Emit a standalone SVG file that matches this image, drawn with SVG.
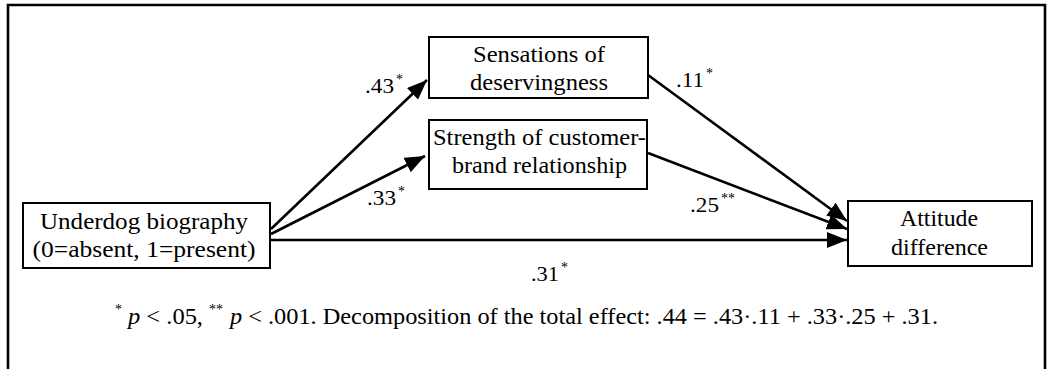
<svg xmlns="http://www.w3.org/2000/svg" width="1050" height="369" viewBox="0 0 1050 369">
<style>
text{font-family:"Liberation Serif","Times New Roman",serif;font-size:24px;fill:#000}
.box{fill:#fff;stroke:#000;stroke-width:2}
.edge{fill:none;stroke:#000;stroke-width:2.6}
.lbl{font-size:22px}
.sup{font-size:14px}
</style>
<defs>
<marker id="ah" markerUnits="userSpaceOnUse" markerWidth="22" markerHeight="16" refX="20" refY="8" orient="auto">
<path d="M0,0 L20,8 L0,16 Z" fill="#000"/>
</marker>
</defs>
<rect width="1050" height="369" fill="#fff"/>
<polyline points="8,369 8,5 1045,5 1045,369" fill="none" stroke="#000" stroke-width="2.6"/>
<g id="connectors">
<line class="edge" x1="271" y1="229" x2="427" y2="80" marker-end="url(#ah)"/>
<line class="edge" x1="271" y1="234" x2="425" y2="156" marker-end="url(#ah)"/>
<line class="edge" x1="271" y1="240" x2="847" y2="240" marker-end="url(#ah)"/>
<line class="edge" x1="648" y1="75" x2="847" y2="221" marker-end="url(#ah)"/>
<line class="edge" x1="648" y1="153" x2="847" y2="229" marker-end="url(#ah)"/>
<text class="lbl" x="365" y="93" textLength="29" lengthAdjust="spacingAndGlyphs">.43</text>
<text class="sup" x="396" y="84">*</text>
<text class="lbl" x="367" y="205" textLength="29" lengthAdjust="spacingAndGlyphs">.33</text>
<text class="sup" x="398" y="196">*</text>
<text class="lbl" x="676" y="87" textLength="28" lengthAdjust="spacingAndGlyphs">.11</text>
<text class="sup" x="706" y="78">*</text>
<text class="lbl" x="690" y="212" textLength="29" lengthAdjust="spacingAndGlyphs">.25</text>
<text class="sup" x="721" y="203">**</text>
<text class="lbl" x="531" y="281" textLength="28" lengthAdjust="spacingAndGlyphs">.31</text>
<text class="sup" x="561" y="272">*</text>
</g>
<g id="node-underdog">
<rect class="box" x="23" y="203" width="247" height="65"/>
<text x="144" y="229" text-anchor="middle" textLength="208" lengthAdjust="spacingAndGlyphs">Underdog biography</text>
<text x="144" y="257" text-anchor="middle" textLength="223" lengthAdjust="spacingAndGlyphs">(0=absent, 1=present)</text>
</g>
<g id="node-sensations">
<rect class="box" x="429" y="37" width="219" height="61"/>
<text x="539" y="62" text-anchor="middle" textLength="132" lengthAdjust="spacingAndGlyphs">Sensations of</text>
<text x="539" y="90" text-anchor="middle" textLength="138" lengthAdjust="spacingAndGlyphs">deservingness</text>
</g>
<g id="node-strength">
<rect class="box" x="429" y="120" width="218" height="69"/>
<text x="539.5" y="145" text-anchor="middle" textLength="213" lengthAdjust="spacingAndGlyphs">Strength of customer-</text>
<text x="539.5" y="173" text-anchor="middle" textLength="175" lengthAdjust="spacingAndGlyphs">brand relationship</text>
</g>
<g id="node-attitude">
<rect class="box" x="848" y="201" width="184" height="65"/>
<text x="939" y="226" text-anchor="middle" textLength="78" lengthAdjust="spacingAndGlyphs">Attitude</text>
<text x="939.5" y="255" text-anchor="middle" textLength="97" lengthAdjust="spacingAndGlyphs">difference</text>
</g>
<g id="footnote">
<text class="sup" x="115" y="314">*</text>
<text x="128" y="324" textLength="75" lengthAdjust="spacingAndGlyphs"><tspan font-style="italic">p</tspan> &lt; .05,</text>
<text class="sup" x="209" y="314">**</text>
<text x="230" y="324" textLength="708" lengthAdjust="spacingAndGlyphs"><tspan font-style="italic">p</tspan> &lt; .001. Decomposition of the total effect: .44 = .43·.11 + .33·.25 + .31.</text>
</g>
</svg>
